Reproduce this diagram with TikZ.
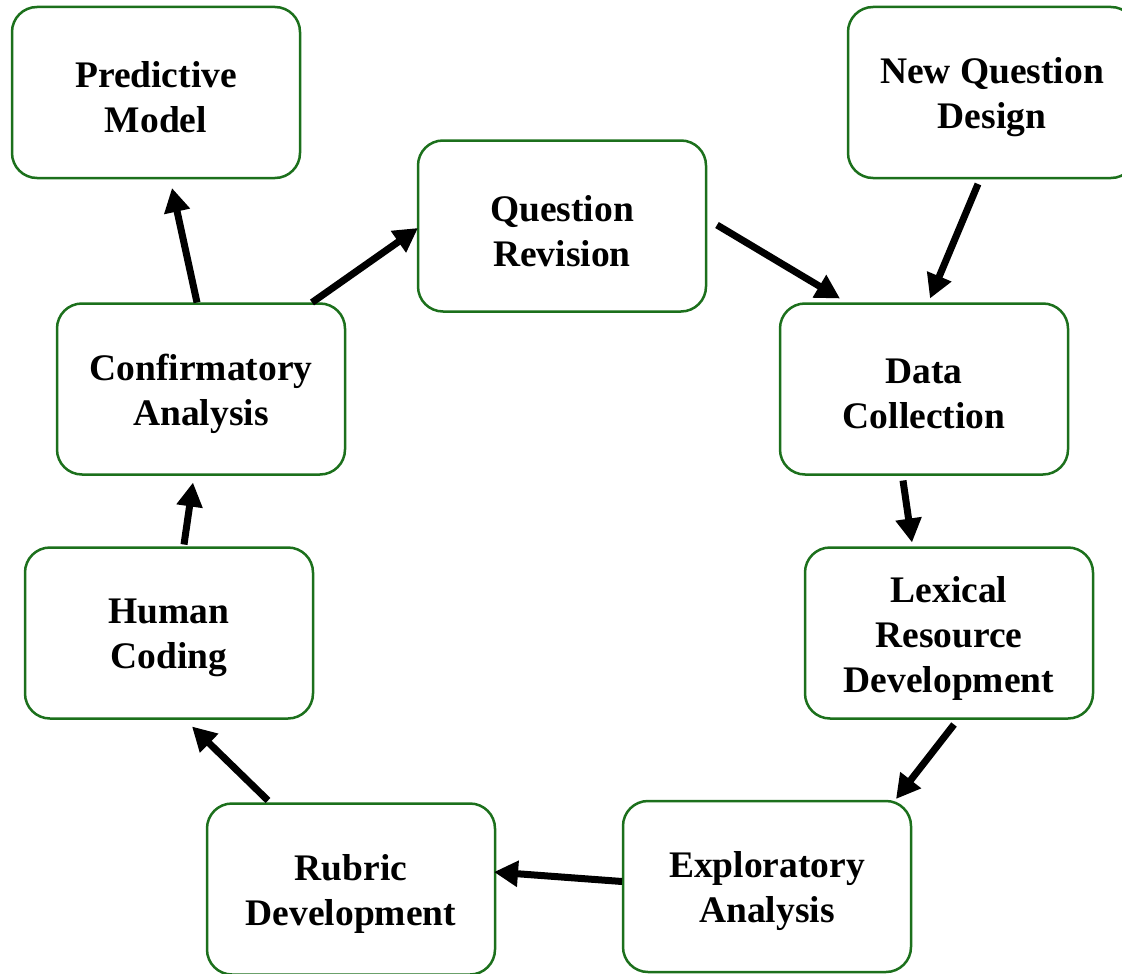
\documentclass[tikz,border=0pt]{standalone}
\usepackage{fontspec}
\setmainfont{Liberation Serif}
\usetikzlibrary{arrows.meta,calc}
\definecolor{boxgreen}{RGB}{28,112,28}
\tikzset{
  stage/.style={draw=boxgreen, line width=2.5pt, rounded corners=25pt,
    minimum width=288pt, minimum height=171pt, outer sep=0pt, inner sep=0pt,
    fill=white},
  stagetext/.style={align=center, font=\bfseries\fontsize{37.5}{45}\selectfont,
    inner sep=0pt, yshift=-5pt},
  flow/.style={line width=7pt, -{Triangle[length=24pt,width=25pt]}}
}
\begin{document}
\begin{tikzpicture}[x=1pt,y=-1pt]
\useasboundingbox (0,0) rectangle (1122,974);
\node[stage, label={[stagetext]center:Predictive\\Model}] (pred) at (156,92.5) {};
\node[stage, label={[stagetext]center:New Question\\Design}] (nqd) at (992,92.5) {};
\node[stage, label={[stagetext]center:Question\\Revision}] (qr) at (562,226) {};
\node[stage, label={[stagetext]center:Confirmatory\\Analysis}] (conf) at (201,389) {};
\node[stage, label={[stagetext]center:Data\\Collection}] (data) at (924,389) {};
\node[stage, label={[stagetext]center:Human\\Coding}] (human) at (169,633) {};
\node[stage, label={[stagetext]center:Lexical\\Resource\\Development}] (lex) at (949,633) {};
\node[stage, label={[stagetext]center:Rubric\\Development}] (rubric) at (351,889) {};
\node[stage, label={[stagetext]center:Exploratory\\Analysis}] (expl) at (767,886.5) {};

\draw[flow] ($(conf.north)+(-4,-1)$) -- ($(pred.south)+(16,10)$);
\draw[flow] ($(conf.north east)+(-33,-1)$) -- ($(qr.west)+(0,2)$);
\draw[flow] ($(qr.east)+(11,-1)$) -- ($(data.north west)+(60,-5)$);
\draw[flow] ($(nqd.south)+(-14,6)$) -- ($(data.north)+(6,-5)$);
\draw[flow] ($(data.south)+(-21,6)$) -- ($(lex.north)+(-37,-5)$);
\draw[flow] ($(lex.south)+(5,6)$) -- ($(expl.north east)+(-15,-2)$);
\draw[flow] ($(expl.west)+(-1,-5)$) -- ($(rubric.east)+(-1,-17)$);
\draw[flow] ($(rubric.north west)+(61,-3)$) -- ($(human.south)+(23,8)$);
\draw[flow] ($(human.north)+(15,-3)$) -- ($(conf.south)+(-8,8)$);
\end{tikzpicture}
\end{document}
